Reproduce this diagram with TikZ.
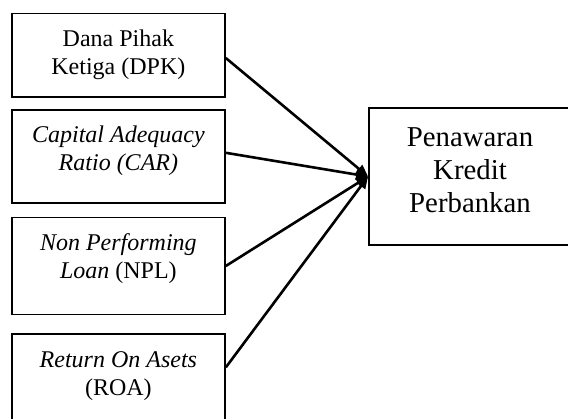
\documentclass[tikz,border=0pt]{standalone}
\usepackage{fontspec}
\setmainfont{Liberation Serif}
\usetikzlibrary{arrows.meta, positioning}

\begin{document}
\begin{tikzpicture}[
      box/.style={draw, line width=0.9pt, minimum width=106.5pt, inner xsep=4pt,
                  inner ysep=5pt, text height=25.5pt, align=center,
                  font=\fontsize{12}{14}\selectfont},
      goal/.style={draw, line width=0.9pt, minimum width=101pt, minimum height=68.5pt,
                   text depth=6pt, align=center, font=\fontsize{14.4}{16.5}\selectfont},
      arr/.style={-{Triangle[length=6pt, width=5pt]}, line width=1.3pt}]
    \useasboundingbox (0,0) rectangle (284pt,-209pt);
    \node[box, anchor=north west, text depth=6.2pt] at (5.5pt,-6.3pt) (dpk) {Dana Pihak\\Ketiga (DPK)};
    \node[box, below=5.5pt of dpk, text depth=11pt]  (car) {\textit{Capital Adequacy}\\\textit{Ratio (CAR)}};
    \node[box, below=6.5pt of car, text depth=13pt]  (npl) {\textit{Non Performing}\\\textit{Loan} (NPL)};
    \node[box, below=9pt of npl, text depth=26pt]    (roa) {\textit{Return On Asets}\\(ROA)};
    \node[goal] at (235pt,-88.25pt) (kredit) {Penawaran\\Kredit\\Perbankan};
    \draw[arr] ([yshift=-1.4pt]dpk.east) -- (kredit.west);
    \draw[arr] ([yshift=1.7pt]car.east) -- (kredit.west);
    \draw[arr] (npl.east) -- (kredit.west);
    \draw[arr] ([yshift=-17pt]roa.north east) -- (kredit.west);
  \end{tikzpicture}
\end{document}
